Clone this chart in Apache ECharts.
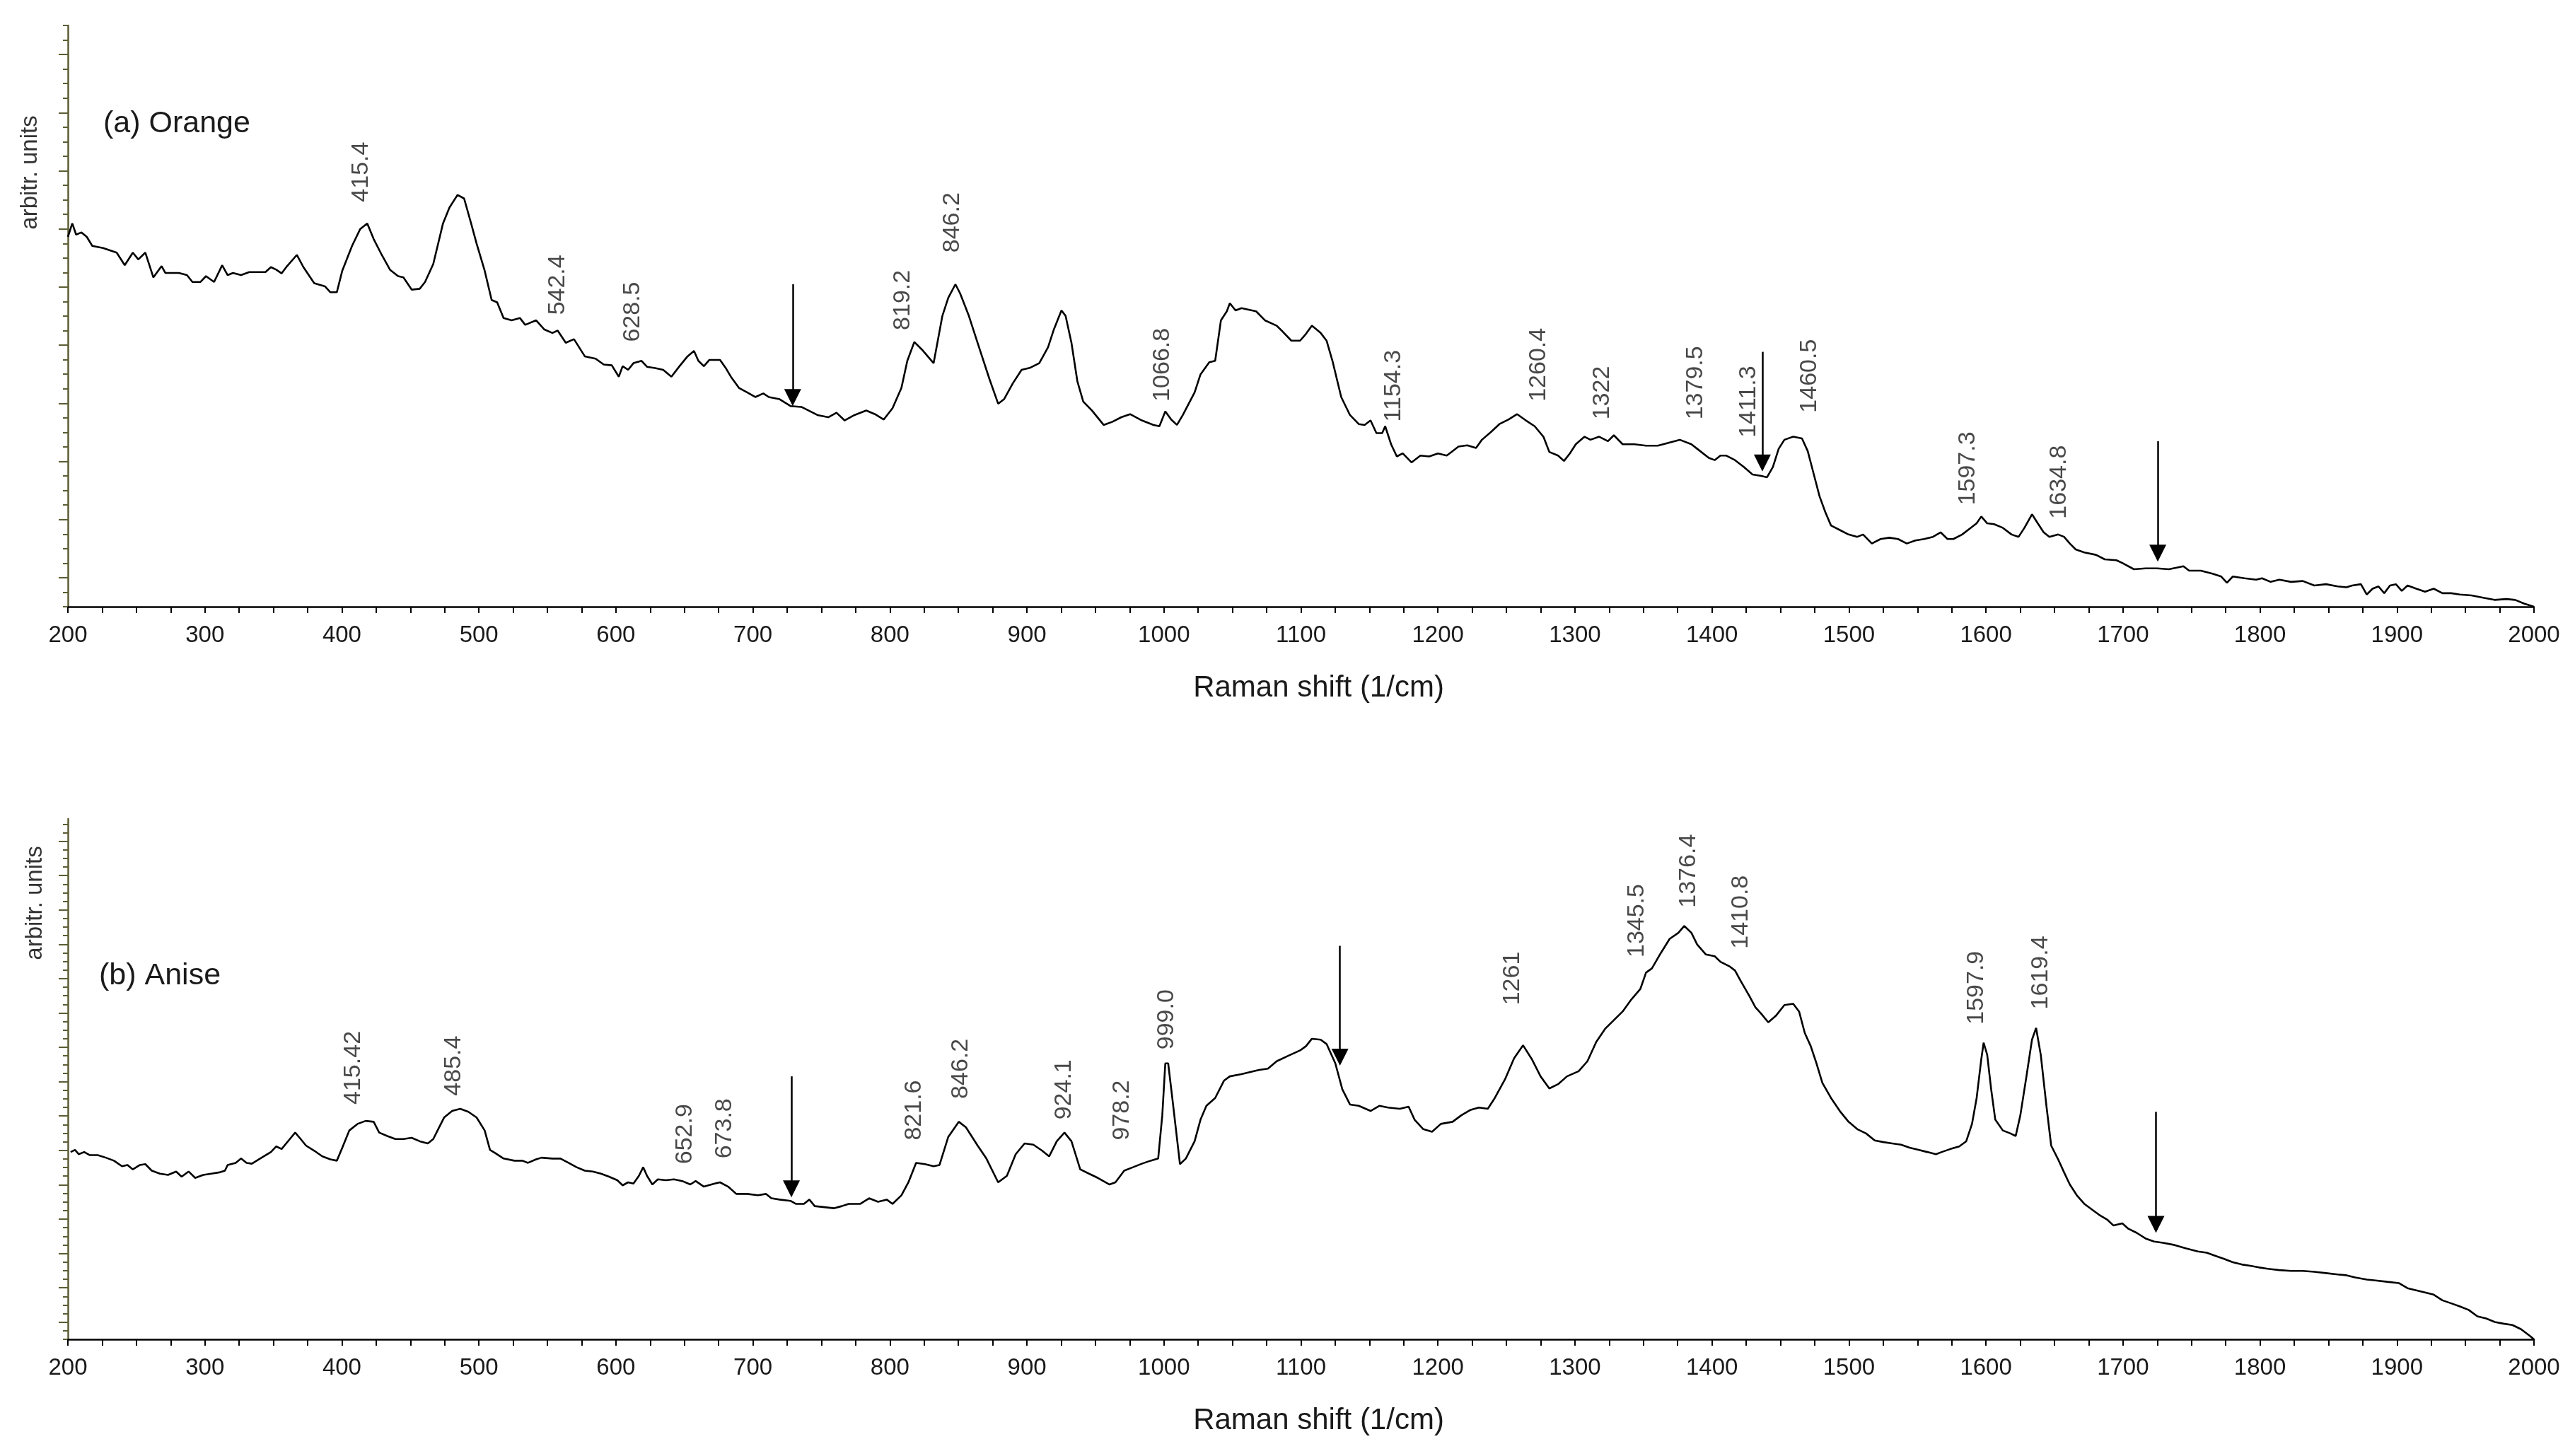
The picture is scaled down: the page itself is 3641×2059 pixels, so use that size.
<!DOCTYPE html>
<html>
<head>
<meta charset="utf-8">
<title>Raman spectra - Orange and Anise</title>
<script src="https://cdn.jsdelivr.net/npm/echarts@6/dist/echarts.min.js"></script>
<style>
  html, body { margin: 0; padding: 0; background: #fff; }
  #chart { width: 3641px; height: 2059px; }
</style>
</head>
<body>
<div id="chart"></div>
<script>
(function () {
  // (a) Orange spectrum: Raman shift (1/cm) and intensity (arbitr. units)
  var orangeShift = [200.0,203.2,206.0,209.9,213.8,217.8,225.7,235.6,241.5,247.4,251.4,256.5,262.4,268.4,271.1,281.0,286.9,290.9,296.8,300.8,
    306.7,312.6,316.6,320.5,326.4,332.4,344.2,348.2,352.1,356.0,360.0,367.1,371.9,379.8,387.7,391.6,396.3,400.3,407.4,413.3,
    418.5,423.2,429.1,435.1,441.0,444.9,450.9,456.8,460.7,466.7,473.8,478.5,484.4,489.2,494.3,498.3,504.2,509.3,513.3,518.0,
    523.9,529.9,533.8,541.7,547.6,553.6,557.5,563.4,569.4,577.3,585.2,591.1,597.0,602.1,604.9,608.9,612.8,618.7,622.7,628.6,
    634.5,640.5,646.4,652.3,657.0,660.2,664.2,668.1,676.0,680.0,683.9,689.8,695.8,701.7,707.6,711.6,719.5,727.4,735.3,739.2,
    747.1,755.0,761.0,766.9,774.1,782.7,789.1,795.5,801.9,808.4,812.7,817.8,823.4,831.9,838.3,842.6,847.8,851.2,857.6,864.0,
    872.6,879.0,883.3,889.7,896.1,902.5,909.0,915.4,919.7,925.2,928.2,932.5,936.8,941.1,947.5,956.0,962.5,968.9,975.3,983.9,
    992.4,996.7,1001.0,1005.3,1009.5,1013.8,1022.4,1026.7,1033.1,1037.4,1041.6,1045.9,1048.1,1052.3,1056.6,1067.3,1073.7,1082.3,1086.6,1093.0,
    1099.4,1103.7,1108.0,1114.4,1118.7,1123.0,1129.4,1135.8,1142.2,1146.5,1150.8,1155.1,1159.3,1161.5,1165.8,1170.0,1174.3,1180.7,1187.2,1193.6,
    1200.0,1206.4,1210.7,1215.0,1221.4,1227.8,1232.1,1238.5,1244.9,1251.4,1257.8,1264.2,1270.6,1277.0,1281.3,1287.7,1292.0,1296.3,1300.6,1307.0,
    1311.3,1317.7,1324.1,1328.4,1334.8,1343.4,1351.9,1360.5,1376.5,1385.0,1389.2,1397.7,1402.0,1406.2,1410.5,1416.8,1423.2,1429.6,1436.0,1440.2,
    1444.5,1448.7,1452.9,1459.3,1465.7,1469.9,1474.2,1478.5,1482.7,1486.9,1493.3,1499.7,1506.1,1510.3,1516.7,1523.1,1529.5,1535.8,1542.2,1548.6,
    1554.9,1561.3,1566.9,1571.9,1576.2,1582.6,1588.9,1593.2,1596.6,1600.9,1605.9,1612.3,1618.7,1623.8,1628.1,1633.6,1637.8,1642.1,1646.3,1652.7,
    1657.0,1661.2,1665.5,1671.8,1680.3,1686.7,1695.2,1699.5,1708.0,1716.5,1724.9,1733.5,1739.8,1744.1,1748.3,1756.8,1765.3,1771.7,1775.9,1780.2,
    1788.7,1797.2,1801.5,1807.8,1814.2,1822.7,1831.2,1839.7,1848.2,1856.7,1863.1,1867.3,1873.7,1877.9,1882.2,1886.5,1890.7,1894.9,1899.2,1903.5,
    1907.7,1914.1,1920.5,1926.8,1933.2,1939.6,1945.9,1954.4,1962.9,1971.2,1979.9,1986.3,1992.7,2000.0];
  var orangeIntensity = [25.45,26.38,25.61,25.76,25.45,24.83,24.68,24.37,23.50,24.37,23.90,24.37,22.66,23.44,22.97,22.97,22.82,22.35,22.35,22.75,
    22.35,23.50,22.82,22.97,22.82,23.03,23.03,23.37,23.19,22.94,23.44,24.21,23.37,22.26,22.04,21.64,21.64,23.13,24.83,25.98,
    26.38,25.30,24.21,23.19,22.75,22.66,21.82,21.88,22.35,23.59,26.38,27.47,28.34,28.09,26.38,24.99,23.13,21.11,20.95,19.87,
    19.71,19.87,19.40,19.71,19.09,18.84,19.00,18.16,18.41,17.23,17.07,16.67,16.61,15.83,16.55,16.30,16.76,16.92,16.51,16.42,
    16.30,15.83,16.55,17.23,17.60,16.92,16.55,16.98,16.98,16.45,15.83,15.06,14.75,14.43,14.68,14.43,14.28,13.81,13.75,13.57,
    13.19,13.04,13.35,12.82,13.19,13.50,13.25,12.88,13.66,15.06,16.92,18.22,17.69,16.76,20.02,21.26,22.19,21.57,20.02,18.16,
    15.68,13.97,14.28,15.37,16.30,16.45,16.76,17.85,19.09,20.39,20.02,18.16,15.52,14.12,13.50,12.51,12.73,13.04,13.25,12.82,
    12.51,12.42,13.44,12.88,12.51,13.19,14.75,15.99,16.82,16.92,19.71,20.33,20.89,20.39,20.55,20.33,19.71,19.34,18.94,18.31,
    18.31,18.78,19.34,18.84,18.31,16.92,14.43,13.19,12.57,12.51,12.82,11.95,11.95,12.42,11.18,10.34,10.55,9.93,10.40,10.34,
    10.55,10.40,10.71,11.02,11.11,10.93,11.49,12.01,12.57,12.88,13.25,12.82,12.42,11.70,10.65,10.40,10.03,10.55,11.18,11.70,
    11.49,11.70,11.39,11.80,11.18,11.18,11.08,11.08,11.49,11.18,10.87,10.24,10.09,10.40,10.40,10.09,9.62,9.10,9.00,8.91,
    9.62,10.87,11.49,11.70,11.58,10.71,9.16,7.61,6.52,5.59,5.28,4.97,4.81,4.97,4.35,4.66,4.75,4.66,4.35,4.56,
    4.66,4.81,5.12,4.66,4.66,4.97,5.43,5.74,6.21,5.74,5.68,5.43,4.97,4.81,5.43,6.36,5.74,5.12,4.81,4.97,
    4.81,4.35,3.94,3.73,3.57,3.26,3.20,3.01,2.58,2.64,2.64,2.58,2.70,2.79,2.48,2.48,2.27,2.08,1.65,2.08,
    1.96,1.86,1.96,1.71,1.86,1.71,1.77,1.46,1.55,1.40,1.34,1.46,1.55,0.84,1.24,1.40,0.93,1.46,1.55,1.09,
    1.46,1.24,1.03,1.24,0.93,0.93,0.84,0.78,0.62,0.47,0.53,0.47,0.22,0.00];

  // (b) Anise spectrum
  var aniseShift = [202.0,205.2,207.9,211.9,215.8,221.8,227.7,233.6,239.5,243.5,247.4,252.6,256.5,261.2,267.2,273.1,279.0,283.0,288.1,292.9,
    298.8,304.7,310.6,314.6,316.6,322.5,326.4,330.4,334.3,340.3,348.2,352.1,356.0,362.0,365.9,369.9,373.8,379.8,385.7,391.6,
    396.3,400.3,405.4,411.4,417.3,423.2,427.2,433.1,439.0,444.9,450.9,456.8,462.7,466.7,470.6,474.6,480.5,486.4,492.3,498.3,
    504.2,508.1,512.1,518.0,525.9,531.8,535.8,541.7,545.7,553.6,559.5,565.4,571.3,577.3,583.2,589.1,595.0,601.0,604.9,608.9,
    612.8,616.8,619.9,622.7,626.6,630.6,636.5,642.4,648.4,654.3,658.2,664.2,672.1,676.0,681.9,687.9,695.8,703.7,709.6,713.5,
    719.5,727.4,731.3,737.2,741.2,745.1,751.1,759.0,764.9,769.9,778.4,784.8,791.3,797.7,801.9,808.4,813.5,819.1,825.5,831.9,
    836.2,842.6,850.3,855.5,864.0,870.4,879.0,885.4,891.8,898.3,904.7,911.1,916.2,921.8,927.4,932.5,938.9,945.3,951.8,960.3,
    964.6,971.0,977.4,983.9,990.3,995.8,998.8,1001.0,1003.1,1006.1,1011.7,1016.0,1022.4,1026.7,1031.0,1037.4,1043.8,1048.1,1056.6,1063.0,
    1069.5,1075.9,1082.3,1090.9,1099.4,1103.7,1108.0,1114.4,1118.7,1125.1,1130.2,1135.8,1142.2,1150.8,1157.2,1163.6,1172.2,1178.6,1182.9,1189.3,
    1195.7,1202.1,1210.7,1217.1,1223.5,1229.9,1236.4,1241.5,1249.2,1255.6,1262.1,1268.5,1274.9,1281.3,1287.7,1294.2,1302.7,1309.1,1315.6,1322.0,
    1328.4,1334.8,1341.2,1347.7,1351.9,1356.2,1362.6,1369.1,1375.5,1379.8,1385.0,1389.2,1395.6,1402.0,1406.2,1412.6,1416.8,1421.1,1427.5,1431.7,
    1436.0,1441.1,1446.6,1452.9,1459.3,1463.6,1467.8,1472.1,1476.3,1480.6,1486.9,1493.3,1499.7,1506.1,1512.5,1518.8,1525.2,1531.6,1538.0,1544.3,
    1550.7,1557.1,1563.5,1567.7,1574.1,1580.5,1585.6,1589.8,1593.2,1596.6,1598.3,1600.9,1603.8,1606.8,1612.3,1617.9,1621.7,1625.1,1629.3,1633.6,
    1636.6,1640.0,1644.2,1647.6,1652.7,1657.0,1661.2,1666.3,1671.8,1677.4,1682.5,1688.8,1693.1,1699.5,1703.7,1710.1,1716.5,1722.8,1729.2,1737.7,
    1746.2,1754.7,1761.1,1767.5,1773.8,1780.2,1786.6,1792.9,1799.3,1805.7,1814.2,1822.7,1831.2,1839.7,1848.2,1856.7,1863.1,1869.5,1878.0,1884.3,
    1892.8,1901.3,1907.7,1914.1,1920.5,1926.8,1933.2,1939.6,1945.9,1952.3,1958.7,1965.1,1971.4,1977.8,1984.2,1990.6,1996.9,2000.0];
  var aniseIntensity = [21.81,22.06,21.55,21.81,21.45,21.45,21.15,20.80,20.15,20.30,19.79,20.30,20.40,19.64,19.29,19.14,19.54,18.94,19.54,18.79,
    19.14,19.29,19.44,19.64,20.30,20.55,21.05,20.55,20.45,21.05,21.81,22.46,22.16,23.32,24.07,23.32,22.56,21.96,21.30,20.95,
    20.80,22.31,24.32,25.08,25.43,25.33,24.07,23.67,23.32,23.32,23.47,23.06,22.81,23.32,24.57,25.83,26.59,26.84,26.49,25.83,
    24.32,22.06,21.66,21.05,20.80,20.80,20.55,20.95,21.15,21.05,21.05,20.55,20.04,19.64,19.54,19.29,18.94,18.53,17.93,18.28,
    18.13,19.04,20.04,19.04,18.03,18.63,18.53,18.63,18.43,18.03,18.43,17.78,18.13,18.28,17.78,16.93,16.93,16.77,16.93,16.42,
    16.27,16.12,15.77,15.77,16.27,15.51,15.41,15.26,15.51,15.77,15.77,16.42,16.02,16.27,15.77,16.77,18.28,20.55,20.40,20.15,
    20.30,23.57,25.33,24.68,22.56,21.05,18.28,19.04,21.55,22.81,22.66,21.96,21.30,23.06,24.07,23.06,19.79,19.29,18.79,18.03,
    18.28,19.64,20.04,20.45,20.80,21.05,26.09,32.13,32.13,28.10,20.40,21.05,23.06,25.58,27.19,28.10,30.11,30.62,30.87,31.12,
    31.37,31.52,32.38,33.03,33.64,34.14,35.00,34.89,34.39,32.13,29.11,27.34,27.19,26.59,27.19,26.99,26.84,27.09,25.58,24.47,
    24.17,25.08,25.33,26.09,26.69,26.99,26.84,28.10,30.36,32.73,34.24,32.63,30.62,29.21,29.71,30.62,31.22,32.38,34.64,36.15,
    37.16,38.17,39.58,40.78,42.70,43.20,44.96,46.62,47.33,48.13,47.33,45.97,44.81,44.61,43.96,43.45,42.95,41.69,39.93,38.67,
    37.91,36.91,37.66,38.92,39.07,38.17,35.65,34.14,32.13,29.86,28.10,26.59,25.33,24.47,23.97,23.16,22.96,22.81,22.66,22.31,
    22.06,21.81,21.55,21.81,22.16,22.46,23.06,25.08,28.10,32.63,34.54,33.13,29.11,25.58,24.32,23.97,23.67,26.09,30.36,34.89,
    36.25,33.13,27.09,22.56,20.95,19.44,18.03,16.77,15.77,15.11,14.51,13.90,13.25,13.50,12.90,12.39,11.74,11.39,11.24,10.98,
    10.58,10.23,10.08,9.72,9.37,8.97,8.72,8.57,8.37,8.21,8.06,7.96,7.96,7.86,7.71,7.56,7.46,7.21,6.96,6.86,
    6.70,6.55,5.95,5.70,5.45,5.20,4.54,4.19,3.83,3.43,2.68,2.43,2.02,1.82,1.67,1.17,0.41,0.00];

  // peak annotations: label text, shift where the label sits, intensity at the label's foot
  var orangePeakText = ['415.4', '542.4', '628.5', '819.2', '846.2', '1066.8', '1154.3', '1260.4', '1322', '1379.5', '1411.3', '1460.5', '1597.3', '1634.8'];
  var orangePeakShift = [414.1, 557.5, 612.0, 809.2, 845.6, 998.8, 1167.9, 1273.6, 1319.8, 1387.9, 1426.6, 1471.2, 1586.8, 1653.6];
  var orangePeakLevel = [27.85, 20.08, 18.22, 19.03, 24.37, 14.12, 12.73, 14.12, 12.88, 12.88, 11.64, 13.35, 6.99, 6.05];

  var anisePeakText = ['415.42', '485.4', '652.9', '673.8', '821.6', '846.2', '924.1', '978.2', '999.0', '1261', '1345.5', '1376.4', '1410.8', '1597.9', '1619.4'];
  var anisePeakShift = [408.2, 481.7, 650.3, 679.2, 817.8, 852.0, 927.0, 969.7, 1001.8, 1254.4, 1345.5, 1382.8, 1421.1, 1593.2, 1640.0];
  var anisePeakLevel = [27.34, 28.35, 20.40, 21.05, 23.17, 28.00, 25.58, 23.17, 33.74, 38.92, 44.46, 50.25, 45.47, 36.66, 38.42];

  // downward arrows: shift, tail level, tip level
  var orangeArrowShift = [729.0, 1436.8, 1725.4];
  var orangeArrowTail = [22.19, 17.54, 11.39];
  var orangeArrowTip = [13.81, 9.31, 3.10];

  var aniseArrowShift = [728.1, 1128.5, 1724.1];
  var aniseArrowTail = [30.62, 45.82, 26.49];
  var aniseArrowTip = [16.52, 31.87, 12.39];

  // y axis ranges (arbitrary units) and tick positions
  var orangeMax = 40;
  var aniseMax = 60.6;
  function range(a, b, step) {
    var out = [];
    for (var v = a; v <= b + 1e-9; v += step) out.push(v);
    return out;
  }

  var AXIS_OLIVE = '#5c5c34';
  var TEXT = '#1a1a1a';
  var FONT = '"Liberation Sans", Arial, sans-serif';

  function pairs(xs, ys) {
    return xs.map(function (x, i) { return [x, ys[i]]; });
  }
  function peaks(texts, xs, ys) {
    return texts.map(function (t, i) { return { name: t, value: [xs[i], ys[i]] }; });
  }
  function arrows(xs, tails, tips, pxPerUnit) {
    // the triangle symbol is centred on the end point, pull it up by half its size
    return xs.map(function (x, i) {
      return [{ coord: [x, tails[i]] }, { coord: [x, tips[i] + 12 / pxPerUnit] }];
    });
  }

  function xAxis(grid) {
    return {
      type: 'value', gridIndex: grid, min: 200, max: 2000, interval: 100,
      axisLine: { show: true, onZero: false, lineStyle: { color: '#000', width: 2.5 } },
      axisTick: { show: true, length: 9, lineStyle: { color: '#000', width: 2 } },
      minorTick: { show: true, splitNumber: 4, length: 9, lineStyle: { color: '#000', width: 2 } },
      splitLine: { show: false },
      axisLabel: { fontSize: 33, color: TEXT, fontFamily: FONT, margin: 24, formatter: function (v) { return String(v); } },
      name: 'Raman shift (1/cm)', nameLocation: 'middle', nameGap: 94,
      nameTextStyle: { fontSize: 42, color: TEXT, fontFamily: FONT, padding: [0, 0, 0, 50] }
    };
  }
  function yMajor(grid, max, ticks) {
    return {
      type: 'value', gridIndex: grid, min: 0, max: max, position: 'left', offset: 0,
      axisLine: { show: true, onZero: false, lineStyle: { color: AXIS_OLIVE, width: 2.5 } },
      axisTick: { show: true, length: 13, customValues: ticks, lineStyle: { color: AXIS_OLIVE, width: 2 } },
      axisLabel: { show: false },
      splitLine: { show: false }
    };
  }
  function yMinor(grid, max, ticks) {
    return {
      type: 'value', gridIndex: grid, min: 0, max: max, position: 'left', offset: 0,
      axisLine: { show: false },
      axisTick: { show: true, length: 7, customValues: ticks, lineStyle: { color: AXIS_OLIVE, width: 2 } },
      axisLabel: { show: false },
      splitLine: { show: false }
    };
  }

  var peakLabel = {
    show: true, position: 'inside', rotate: 90, align: 'left', verticalAlign: 'middle',
    formatter: '{b}', fontSize: 34, color: TEXT, fontFamily: FONT
  };
  var arrowLine = function (data) {
    return {
      silent: true, symbol: ['none', 'triangle'], symbolSize: 24,
      label: { show: false },
      lineStyle: { color: '#000', width: 2.5, type: 'solid' },
      emphasis: { disabled: true },
      data: data
    };
  };

  var chart = echarts.init(document.getElementById('chart'), null, { renderer: 'canvas' });
  var option = {
    animation: false,
    backgroundColor: '#fff',
    grid: [
      { left: 96, right: 58, top: 36, height: 822 },
      { left: 96, right: 58, top: 1158, height: 736 }
    ],
    xAxis: [xAxis(0), xAxis(1)],
    yAxis: [
      yMajor(0, orangeMax, range(2, 38, 4)),
      yMinor(0, orangeMax, range(0, 40, 1)),
      yMajor(1, aniseMax, range(2, 58, 4)),
      yMinor(1, aniseMax, range(0, 60, 1))
    ],
    graphic: [
      { type: 'text', x: 146, y: 175, style: { text: '(a) Orange', font: '43px ' + FONT, fill: TEXT, verticalAlign: 'middle' } },
      { type: 'text', x: 140, y: 1380, style: { text: '(b) Anise', font: '43px ' + FONT, fill: TEXT, verticalAlign: 'middle' } },
      { type: 'text', x: 43, y: 244, rotation: Math.PI / 2, style: { text: 'arbitr. units', font: '33px ' + FONT, fill: '#333', align: 'center', verticalAlign: 'middle' } },
      { type: 'text', x: 50, y: 1277, rotation: Math.PI / 2, style: { text: 'arbitr. units', font: '33px ' + FONT, fill: '#333', align: 'center', verticalAlign: 'middle' } }
    ],
    series: [
      {
        name: 'Orange', type: 'line', xAxisIndex: 0, yAxisIndex: 0,
        data: pairs(orangeShift, orangeIntensity), showSymbol: false,
        lineStyle: { color: '#000', width: 2.6 }, z: 3,
        markLine: arrowLine(arrows(orangeArrowShift, orangeArrowTail, orangeArrowTip, 822 / orangeMax))
      },
      {
        name: 'Orange peaks', type: 'scatter', xAxisIndex: 0, yAxisIndex: 0,
        data: peaks(orangePeakText, orangePeakShift, orangePeakLevel),
        symbolSize: 1, itemStyle: { color: 'rgba(0,0,0,0)' }, silent: true, label: peakLabel
      },
      {
        name: 'Anise', type: 'line', xAxisIndex: 1, yAxisIndex: 2,
        data: pairs(aniseShift, aniseIntensity), showSymbol: false,
        lineStyle: { color: '#000', width: 2.6 }, z: 3,
        markLine: arrowLine(arrows(aniseArrowShift, aniseArrowTail, aniseArrowTip, 736 / aniseMax))
      },
      {
        name: 'Anise peaks', type: 'scatter', xAxisIndex: 1, yAxisIndex: 2,
        data: peaks(anisePeakText, anisePeakShift, anisePeakLevel),
        symbolSize: 1, itemStyle: { color: 'rgba(0,0,0,0)' }, silent: true, label: peakLabel
      }
    ]
  };
  chart.setOption(option);
})();
</script>
</body>
</html>
